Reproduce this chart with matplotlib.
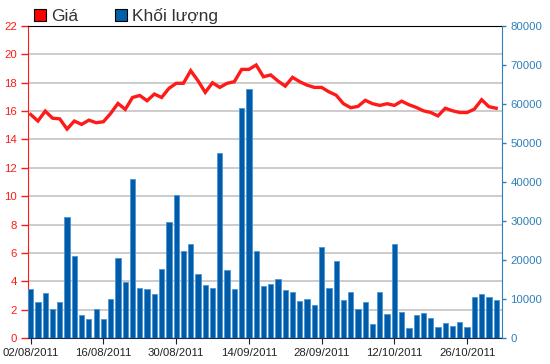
import matplotlib
matplotlib.use("Agg")
import matplotlib.pyplot as plt
from matplotlib.patches import Patch
import numpy as np

plt.rcParams['font.family'] = ['Liberation Sans', 'DejaVu Sans']

tick_labels = ["02/08/2011", "16/08/2011", "30/08/2011", "14/09/2011",
               "28/09/2011", "12/10/2011", "26/10/2011"]

price = [15.76, 15.30, 16.00, 15.50, 15.45, 14.73, 15.30, 15.06, 15.36, 15.18,
         15.25, 15.84, 16.54, 16.12, 16.96, 17.10, 16.73, 17.20, 16.96, 17.60,
         17.96, 17.96, 18.85, 18.14, 17.32, 18.00, 17.67, 17.96, 18.07, 18.94,
         18.94, 19.25, 18.42, 18.55, 18.12, 17.76, 18.38, 18.07, 17.83, 17.67,
         17.67, 17.36, 17.12, 16.52, 16.24, 16.33, 16.76, 16.52, 16.40, 16.52,
         16.40, 16.70, 16.45, 16.26, 16.02, 15.90, 15.66, 16.20, 16.02, 15.90,
         15.90, 16.14, 16.80, 16.31, 16.20]

volume = [12500, 9350, 11530, 7350, 9350, 30900, 20950, 5820, 4760, 7350,
          4760, 10040, 20620, 14360, 40700, 12800, 12550, 11270, 17750, 29700,
          36730, 22330, 24150, 16440, 13700, 12900, 47560, 17530, 12650, 58870,
          63820, 22330, 13350, 13960, 15240, 12220, 11750, 9600, 9960, 8580,
          23450, 12730, 19850, 9710, 11850, 7380, 9270, 3530, 11850, 6040,
          24070, 6620, 2510, 6000, 6290, 5160, 2840, 3780, 3160, 4040,
          2840, 10580, 11160, 10580, 9640]

x = np.arange(len(price))
tick_pos = np.arange(0, len(price), 10)[:len(tick_labels)]

RED = "#ff1a1a"
BLUE = "#005ca8"
BLUE_EDGE = "#4a96d6"
AXBLUE = "#2f7fb8"
FS = 8.2

fig = plt.figure(figsize=(5.5, 3.64), dpi=100)
ax = fig.add_axes([28/550, 26/364, (502-28)/550, (338-26)/364])
ax2 = ax.twinx()
ax3 = ax.twinx()

# price axis (back): grid + left ticks
ax.set_ylim(0, 22)
ax.set_yticks(np.arange(0, 23, 2))
ax.grid(axis='y', color='#c8c8c8', linewidth=1.3)
ax.set_axisbelow(True)
ax.tick_params(axis='y', colors=RED, labelcolor=RED, labelsize=FS, length=5, pad=3, width=1)
ax.set_xlim(-0.37, 64.8)
ax.set_xticks(tick_pos)
ax.set_xticklabels(tick_labels)
ax.tick_params(axis='x', labelsize=FS, length=4, pad=3, colors='#222222')
ax.spines['left'].set_color(RED)
ax.spines['top'].set_color('black')
ax.spines['bottom'].set_color('#1a2a4a')
ax.spines['right'].set_visible(False)

# volume axis (middle): bars + right ticks
ax2.bar(x, volume, width=0.72, color=BLUE, edgecolor=BLUE_EDGE, linewidth=0.6, zorder=2)
ax2.set_ylim(0, 80000)
ax2.set_yticks(np.arange(0, 80001, 10000))
ax2.tick_params(axis='y', colors=AXBLUE, labelcolor=AXBLUE, labelsize=FS, length=3, pad=3, width=1)
ax2.spines['right'].set_color(AXBLUE)
for s in ['left', 'top', 'bottom']:
    ax2.spines[s].set_visible(False)
ax2.set_xlim(-0.37, 64.8)

# price line (front)
ax3.plot(x, price, color=RED, linewidth=2.4, solid_joinstyle='miter', zorder=5)
ax3.set_ylim(0, 22)
ax3.set_xlim(-0.37, 64.8)
ax3.set_yticks([])
for s in ax3.spines.values():
    s.set_visible(False)

handles = [Patch(facecolor='#ff0000', edgecolor='black', linewidth=0.8),
           Patch(facecolor='#0060a8', edgecolor='black', linewidth=0.8)]
fig.legend(handles, ["Giá", "Khối lượng"], loc='upper left',
           bbox_to_anchor=(34/550, 1 - 8/364), ncol=2, frameon=False,
           fontsize=12.5, handlelength=0.7, handleheight=0.7,
           handletextpad=0.3, columnspacing=2.1, labelcolor='#333333',
           borderpad=0.0, borderaxespad=0.0)

fig.savefig("out.png", dpi=100)
